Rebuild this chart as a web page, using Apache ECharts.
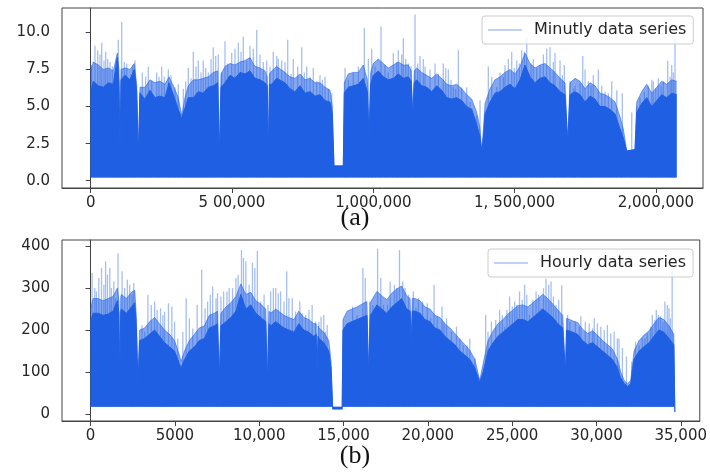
<!DOCTYPE html>
<html>
<head>
<meta charset="utf-8">
<script src="https://cdn.jsdelivr.net/npm/echarts@6/dist/echarts.min.js"></script>
<style>
  html, body { margin: 0; padding: 0; background: #fff; }
  #chart { width: 710px; height: 472px; }
</style>
</head>
<body>
<div id="chart"></div>
<script>
// (a) minutely series: dense body top edge, lighter fringe above it, and spike tips
const coreXA = [0, 9200, 26900, 44600, 62300, 80000, 94100, 100100, 103700, 107200, 121400, 139100, 154300, 162800, 168400, 174500, 192100, 209800, 227500, 245200, 262900, 277100, 292300, 310000, 322000, 333700, 345400, 363100, 380800, 398400, 416100, 433800, 449400, 455100, 461100, 475200, 492900, 510600, 528300, 546000, 563700, 581400, 599100, 616800, 624500, 628500, 632500, 640500, 658200, 687600, 705300, 723000, 740700, 758400, 776100, 793700, 811400, 829100, 846800, 854900, 860900, 893800, 897400, 911500, 929200, 946900, 964600, 979000, 984800, 990500, 1000000, 1017700, 1035400, 1053100, 1070800, 1088500, 1106200, 1123800, 1134000, 1139400, 1145000, 1153600, 1171300, 1189000, 1206700, 1224300, 1242000, 1259700, 1277400, 1295100, 1312800, 1330500, 1348200, 1365900, 1377000, 1383600, 1390000, 1395300, 1413000, 1430700, 1448300, 1466000, 1483700, 1501400, 1519100, 1536800, 1554500, 1572200, 1589900, 1607600, 1625300, 1643000, 1660700, 1678300, 1687900, 1696000, 1713700, 1731400, 1749100, 1766800, 1784500, 1802200, 1819900, 1837600, 1855300, 1873000, 1884600, 1896700, 1926000, 1932100, 1949700, 1967400, 1985100, 2002800, 2020500, 2038200, 2055900, 2073600];
const coreYA = [6.0, 6.7, 6.4, 6.3, 6.6, 6.5, 8.3, 6.5, 1.6, 6.8, 7.1, 6.8, 7.5, 6.0, 1.6, 5.9, 5.5, 6.1, 5.6, 5.7, 5.6, 6.6, 5.8, 4.8, 4.2, 4.9, 5.6, 5.6, 6.0, 5.9, 6.3, 6.4, 6.6, 1.6, 6.3, 6.6, 7.1, 6.9, 7.3, 7.2, 7.4, 6.9, 6.8, 6.6, 6.4, 1.6, 6.5, 6.5, 6.9, 6.6, 6.2, 6.0, 6.4, 5.9, 6.0, 5.7, 5.8, 5.4, 5.3, 4.5, 1.0, 1.0, 5.9, 6.3, 6.4, 6.5, 6.9, 6.0, 2.8, 6.5, 7.1, 7.4, 7.0, 6.8, 6.9, 7.2, 6.9, 7.0, 6.7, 4.4, 6.6, 6.8, 6.4, 6.3, 6.0, 6.4, 6.1, 5.6, 5.5, 5.6, 5.4, 5.0, 4.8, 3.8, 3.0, 2.0, 3.0, 4.5, 5.3, 5.9, 6.0, 6.3, 6.5, 6.2, 6.8, 7.8, 7.0, 6.6, 6.9, 7.0, 6.6, 6.4, 6.0, 5.8, 2.6, 5.8, 6.0, 5.8, 5.3, 5.7, 5.5, 5.0, 5.0, 4.8, 4.5, 3.5, 2.9, 2.0, 2.1, 4.6, 5.2, 5.6, 5.0, 5.4, 5.8, 5.6, 5.9, 5.8];
const fringeYA = [7.4, 8.0, 7.8, 7.5, 7.6, 7.4, 8.6, 7.5, 1.6, 7.5, 7.6, 7.5, 7.9, 6.5, 1.6, 6.3, 6.3, 6.8, 6.6, 6.7, 6.5, 7.0, 6.4, 5.6, 4.4, 5.6, 6.4, 6.8, 6.8, 6.9, 7.0, 7.3, 7.4, 1.6, 7.2, 7.7, 7.9, 7.8, 8.0, 8.1, 8.3, 7.7, 7.6, 7.4, 7.0, 1.6, 7.2, 7.4, 7.7, 7.3, 7.0, 6.9, 7.2, 6.8, 6.9, 6.6, 6.6, 6.3, 6.1, 5.0, 1.0, 1.0, 6.6, 7.2, 7.3, 7.3, 7.8, 6.8, 2.8, 7.3, 7.9, 8.2, 7.9, 7.6, 7.8, 8.0, 7.8, 7.8, 7.4, 4.4, 7.4, 7.6, 7.3, 7.1, 6.9, 7.2, 6.9, 6.5, 6.4, 6.5, 6.2, 5.8, 5.5, 4.6, 3.6, 2.0, 3.6, 5.2, 6.2, 6.8, 7.0, 7.3, 7.5, 7.2, 7.7, 8.6, 7.9, 7.6, 7.8, 7.9, 7.6, 7.3, 6.9, 6.6, 2.6, 6.6, 6.9, 6.7, 6.2, 6.6, 6.4, 5.9, 5.8, 5.6, 5.3, 4.3, 3.5, 2.0, 2.1, 5.3, 6.0, 6.5, 5.9, 6.3, 6.7, 6.5, 6.8, 6.7];
const spikeXA = [1000, 3500, 15200, 24800, 32900, 38900, 47100, 53100, 60100, 68300, 76500, 86000, 97700, 109700, 119000, 127400, 142600, 148600, 156800, 174500, 182600, 194500, 203800, 215900, 233500, 241700, 251200, 260500, 274600, 284100, 298300, 310000, 327700, 336200, 345400, 354900, 363100, 372600, 380800, 390300, 398400, 406900, 416100, 425700, 433800, 442300, 451500, 463600, 475200, 484800, 498900, 510600, 522300, 531800, 540000, 552000, 563700, 575400, 587400, 599100, 610800, 622800, 634500, 646100, 658200, 663800, 675900, 687600, 697100, 708800, 716900, 732400, 746600, 755800, 764300, 776100, 787700, 799700, 811400, 819800, 829100, 841000, 852800, 899900, 911600, 929200, 947000, 968200, 982400, 994300, 1006100, 1027300, 1041400, 1053200, 1070800, 1082800, 1088500, 1100500, 1106200, 1114700, 1123800, 1133500, 1147600, 1157100, 1165300, 1177000, 1183000, 1200700, 1218400, 1230100, 1247700, 1256200, 1265400, 1275000, 1283100, 1291600, 1300800, 1312800, 1330500, 1342200, 1348200, 1365900, 1377600, 1407000, 1419000, 1436700, 1448300, 1460200, 1466000, 1477700, 1489700, 1499000, 1507400, 1516700, 1525100, 1534400, 1542800, 1558000, 1566200, 1578200, 1589900, 1601700, 1613600, 1625300, 1637100, 1643000, 1660700, 1668900, 1675900, 1696000, 1707900, 1713700, 1731500, 1741000, 1749200, 1760800, 1770400, 1778500, 1796200, 1808200, 1819900, 1831800, 1843600, 1861500, 1881100, 1914400, 1932300, 1943700, 1959000, 1973100, 1985300, 1990800, 1999400, 2008500, 2018300, 2026200, 2041700, 2050100, 2055900, 2061800, 2067600];
const spikeYA = [7.7, 7.8, 9.1, 8.8, 8.5, 9.3, 8.1, 8.7, 8.2, 8.0, 7.7, 7.3, 9.5, 10.7, 8.0, 7.9, 7.2, 7.8, 8.1, 6.0, 7.3, 7.0, 7.7, 6.7, 7.3, 7.0, 7.7, 7.0, 7.5, 7.1, 6.3, 6.5, 6.2, 6.7, 7.6, 6.9, 8.7, 7.7, 8.1, 7.3, 8.1, 7.6, 7.3, 8.2, 9.0, 8.4, 8.5, 7.3, 9.4, 7.9, 8.6, 8.9, 9.3, 8.7, 9.7, 8.1, 9.1, 8.9, 10.15, 8.5, 8.0, 8.1, 7.7, 8.7, 8.4, 8.2, 8.1, 8.0, 9.5, 7.2, 8.2, 7.7, 9.0, 7.3, 7.7, 7.0, 7.6, 6.7, 7.1, 6.8, 7.0, 6.2, 5.9, 7.6, 6.8, 7.3, 7.7, 10.3, 8.2, 8.9, 7.7, 10.4, 7.8, 7.3, 8.6, 8.0, 8.8, 8.5, 9.6, 8.2, 7.9, 7.7, 11.2, 7.9, 8.4, 8.2, 7.7, 7.5, 7.9, 7.2, 7.9, 7.6, 7.5, 6.8, 6.3, 6.2, 8.8, 6.3, 6.3, 5.3, 4.9, 4.4, 5.4, 7.7, 7.0, 6.3, 7.3, 7.0, 7.8, 8.2, 8.7, 7.6, 8.1, 7.9, 8.8, 8.7, 9.7, 7.9, 8.2, 7.6, 7.8, 8.5, 8.9, 9.0, 8.0, 8.6, 8.1, 7.1, 7.8, 6.7, 6.2, 6.4, 6.6, 8.4, 7.5, 6.7, 6.4, 7.1, 7.5, 6.4, 6.0, 5.9, 6.7, 6.1, 5.9, 4.6, 5.0, 5.6, 6.0, 6.4, 6.8, 6.7, 6.2, 6.9, 6.4, 6.7, 8.1, 7.0, 7.8, 7.3, 9.6];
const lowA = 0.22;
const xTicksA = [0, 500000, 1000000, 1500000, 2000000];
const xTickLabelsA = ['0', '5 00,000', '1,000,000', '1, 500,000', '2,000,000'];
const yTicksA = [0, 2.5, 5, 7.5, 10];

// (b) hourly series
const coreXB = [0, 150, 450, 740, 1040, 1330, 1590, 1680, 1730, 1790, 1830, 2130, 2420, 2620, 2720, 2810, 2910, 3210, 3500, 3800, 4090, 4390, 4680, 4980, 5270, 5370, 5570, 5860, 6160, 6450, 6750, 7040, 7340, 7530, 7630, 7730, 8030, 8320, 8620, 8910, 9210, 9500, 9800, 10090, 10390, 10480, 10580, 10680, 10980, 11470, 11760, 12060, 12350, 12650, 12940, 13240, 13380, 13430, 13490, 13540, 13830, 14130, 14260, 14360, 14920, 14970, 15210, 15500, 15800, 16090, 16390, 16490, 16590, 16680, 16980, 17270, 17570, 17860, 18160, 18450, 18750, 18950, 19010, 19080, 19240, 19540, 19830, 20130, 20420, 20720, 21010, 21310, 21600, 21900, 22200, 22490, 22790, 23080, 23280, 23570, 23870, 24160, 24460, 24750, 25050, 25340, 25640, 25930, 26230, 26530, 26820, 27120, 27410, 27710, 28000, 28100, 28160, 28230, 28290, 28590, 28880, 29180, 29470, 29770, 30060, 30360, 30660, 30950, 31250, 31440, 31640, 31840, 32030, 32230, 32530, 32820, 33120, 33410, 33710, 34000, 34300, 34590, 34650];
const coreYB = [220, 240, 240, 235, 238, 245, 270, 240, 77, 245, 250, 240, 255, 265, 200, 69, 175, 180, 190, 200, 185, 170, 160, 150, 120, 110, 130, 150, 160, 175, 180, 205, 210, 215, 77, 210, 220, 230, 245, 285, 250, 260, 240, 230, 220, 69, 215, 210, 220, 205, 200, 195, 215, 200, 195, 185, 190, 90, 185, 180, 170, 150, 110, 12, 12, 200, 215, 220, 225, 230, 235, 93, 235, 240, 260, 250, 240, 255, 265, 275, 250, 245, 157, 245, 245, 240, 225, 220, 205, 200, 185, 175, 165, 150, 140, 130, 110, 75, 100, 150, 170, 185, 195, 205, 215, 225, 225, 220, 230, 240, 250, 240, 230, 215, 205, 205, 93, 200, 200, 195, 190, 175, 165, 170, 160, 150, 140, 130, 110, 85, 73, 65, 72, 130, 150, 160, 170, 185, 200, 195, 180, 165, 5];
const fringeYB = [250, 275, 275, 270, 275, 280, 300, 270, 77, 280, 285, 275, 290, 295, 230, 69, 200, 205, 220, 230, 215, 200, 190, 175, 140, 125, 150, 175, 190, 205, 210, 235, 240, 245, 77, 240, 255, 265, 280, 310, 285, 290, 270, 262, 250, 69, 245, 240, 250, 235, 230, 225, 245, 230, 225, 215, 215, 90, 210, 205, 195, 175, 125, 12, 12, 225, 245, 250, 255, 262, 268, 93, 265, 272, 292, 282, 272, 288, 298, 305, 282, 275, 157, 275, 275, 270, 255, 250, 235, 230, 215, 205, 192, 178, 165, 152, 130, 80, 120, 175, 198, 215, 225, 238, 248, 258, 260, 255, 265, 275, 285, 275, 262, 248, 235, 232, 93, 228, 228, 222, 218, 202, 192, 198, 188, 175, 165, 155, 130, 100, 80, 72, 80, 150, 175, 188, 198, 215, 230, 225, 210, 190, 5];
const spikeXB = [90, 250, 350, 490, 650, 790, 890, 1000, 1140, 1240, 1380, 1490, 1630, 1870, 2020, 2180, 2320, 2460, 2560, 3050, 3210, 3400, 3600, 3800, 3950, 4150, 4290, 4390, 4620, 4820, 4980, 5170, 5470, 5670, 5860, 6060, 6320, 6590, 6790, 6940, 7100, 7240, 7440, 7530, 7730, 7890, 8090, 8220, 8420, 8620, 8750, 8950, 9070, 9210, 9400, 9600, 9740, 9890, 10090, 10290, 10520, 10680, 10840, 10980, 11130, 11270, 11470, 11630, 11760, 11960, 12160, 12410, 12550, 12750, 12950, 13140, 13340, 13540, 13670, 13830, 13930, 14030, 15010, 15210, 15540, 15800, 16150, 16290, 16550, 16740, 17020, 17210, 17370, 17610, 17770, 18020, 18160, 18320, 18510, 18650, 18850, 19140, 19300, 19440, 19690, 19970, 20170, 20370, 20560, 20840, 20960, 21110, 21400, 21700, 21900, 22100, 22330, 22490, 22790, 23430, 23570, 23770, 24030, 24260, 24420, 24560, 24690, 24850, 25010, 25150, 25280, 25440, 25600, 25740, 25870, 26030, 26230, 26420, 26580, 26720, 26860, 27010, 27170, 27310, 27450, 27600, 27760, 27940, 28290, 28430, 28750, 28980, 29080, 29340, 29570, 29770, 29870, 30060, 30260, 30460, 30650, 30850, 31050, 31240, 31340, 31540, 31780, 32090, 32320, 32530, 32720, 32880, 33020, 33210, 33310, 33470, 33550, 33670, 33800, 33940, 34060, 34200, 34300, 34390, 34490];
const spikeYB = [336, 300, 292, 324, 348, 308, 364, 332, 348, 300, 316, 276, 383, 340, 300, 320, 308, 284, 312, 212, 196, 284, 260, 268, 248, 252, 236, 244, 264, 256, 220, 180, 196, 276, 228, 204, 260, 344, 252, 268, 284, 304, 276, 288, 280, 292, 292, 300, 300, 324, 332, 391, 372, 364, 308, 360, 348, 389, 268, 284, 260, 292, 300, 300, 288, 292, 268, 340, 276, 276, 244, 268, 240, 236, 248, 260, 220, 220, 232, 236, 196, 212, 188, 204, 256, 236, 348, 324, 268, 260, 394, 324, 260, 260, 316, 308, 300, 391, 316, 300, 284, 292, 252, 276, 268, 264, 228, 308, 232, 256, 220, 228, 196, 208, 180, 164, 164, 180, 133, 236, 196, 220, 224, 248, 236, 208, 248, 280, 256, 268, 260, 292, 272, 308, 284, 236, 272, 292, 284, 252, 300, 322, 308, 316, 280, 260, 272, 307, 236, 220, 220, 208, 233, 220, 216, 204, 228, 216, 208, 200, 212, 192, 196, 180, 180, 157, 137, 125, 172, 164, 180, 180, 192, 208, 236, 224, 248, 236, 233, 220, 268, 260, 252, 228, 340];
const lowB = 17;
const xTicksB = [0, 5000, 10000, 15000, 20000, 25000, 30000, 35000];
const xTickLabelsB = ['0', '5000', '10,000', '15,000', '20,000', '25,000', '30,000', '35,000'];
const yTicksB = [0, 100, 200, 300, 400];

const dark = '#1f5fe3';
const fringe = 'rgba(31, 95, 227, 0.55)';
const light = 'rgba(31, 95, 227, 0.4)';
const legendLine = '#aac2f3';
const frame = '#444';
const tickFont = { color: '#262626', fontSize: 15, fontFamily: 'DejaVu Sans' };

const zip = (xs, ys) => xs.map((x, i) => [x, ys[i]]);

const makeX = (idx, ticks, labels, min, max) => ({
  type: 'value', gridIndex: idx, min: min, max: max,
  axisLine: { onZero: false, lineStyle: { color: frame, width: 1 } },
  axisTick: { customValues: ticks, length: 5, lineStyle: { color: frame } },
  axisLabel: Object.assign({
    customValues: ticks, margin: 8,
    formatter: v => labels[ticks.indexOf(v)]
  }, tickFont),
  splitLine: { show: false }
})

const makeY = (idx, ticks, min, max, digits) => ({
  type: 'value', gridIndex: idx, min: min, max: max,
  axisLine: { show: true, lineStyle: { color: frame, width: 1 } },
  axisTick: { show: true, customValues: ticks, length: 5, lineStyle: { color: frame } },
  axisLabel: Object.assign({
    customValues: ticks, margin: 12,
    formatter: v => v.toFixed(digits)
  }, tickFont),
  splitLine: { show: false }
})

const makeLegend = (name, left, top) => ({
  left: left, top: top,
  data: [{ name: name, icon: 'rect', itemStyle: { color: legendLine } }],
  itemWidth: 34, itemHeight: 1.5,
  padding: [6, 7, 6, 6],
  backgroundColor: 'rgba(255,255,255,0.8)',
  borderColor: '#cccccc', borderWidth: 1, borderRadius: 3,
  textStyle: { color: '#262626', fontSize: 16, fontFamily: 'DejaVu Sans', padding: [0, 0, 0, 7] },
  selectedMode: false
})

// each spike is a thin vertical stroke from the lower edge of the band up to its tip
const spikeSeries = (name, idx, xs, ys, low) => ({
  name: name, type: 'custom', xAxisIndex: idx, yAxisIndex: idx,
  clip: true, encode: { x: 0, y: 1 },
  data: zip(xs, ys),
  renderItem: (params, api) => {
    const tip = api.coord([api.value(0), api.value(1)])
    const base = api.coord([api.value(0), low])
    return {
      type: 'line',
      shape: { x1: tip[0], y1: tip[1], x2: base[0], y2: base[1] },
      style: { stroke: light, lineWidth: 1.3 }
    }
  }
})

const bandSeries = (name, idx, xs, ys, low, color) => ({
  name: name, type: 'line', xAxisIndex: idx, yAxisIndex: idx,
  symbol: 'none', lineStyle: { color: color, width: 1 },
  areaStyle: { color: color, opacity: 1, origin: low },
  data: zip(xs, ys)
})

const chart = echarts.init(document.getElementById('chart'))

chart.setOption({
  animation: false,
  grid: [
    { left: 62, top: 8, width: 641, height: 180, show: true, borderColor: frame, borderWidth: 1 },
    { left: 62, top: 240, width: 641, height: 181, show: true, borderColor: frame, borderWidth: 1 }
  ],
  xAxis: [
    makeX(0, xTicksA, xTickLabelsA, -101550, 2166600),
    makeX(1, xTicksB, xTickLabelsB, -1694, 36128)
  ],
  yAxis: [
    makeY(0, yTicksA, -0.49, 11.64, 1),
    makeY(1, yTicksB, -16.7, 414.6, 0)
  ],
  legend: [
    makeLegend('Minutly data series', 482, 16),
    makeLegend('Hourly data series', 488, 249)
  ],
  series: [
    spikeSeries('Minutly data series', 0, spikeXA, spikeYA, lowA),
    bandSeries('Minutly data series', 0, coreXA, fringeYA, lowA, fringe),
    bandSeries('Minutly data series', 0, coreXA, coreYA, lowA, dark),
    spikeSeries('Hourly data series', 1, spikeXB, spikeYB, lowB),
    bandSeries('Hourly data series', 1, coreXB, fringeYB, lowB, fringe),
    bandSeries('Hourly data series', 1, coreXB, coreYB, lowB, dark)
  ],
  graphic: [
    { type: 'text', left: 'center', top: 205, style: { text: '(a)', font: '26px "Liberation Serif"', fill: '#111' } },
    { type: 'text', left: 'center', top: 443, style: { text: '(b)', font: '26px "Liberation Serif"', fill: '#111' } }
  ]
})
</script>
</body>
</html>
